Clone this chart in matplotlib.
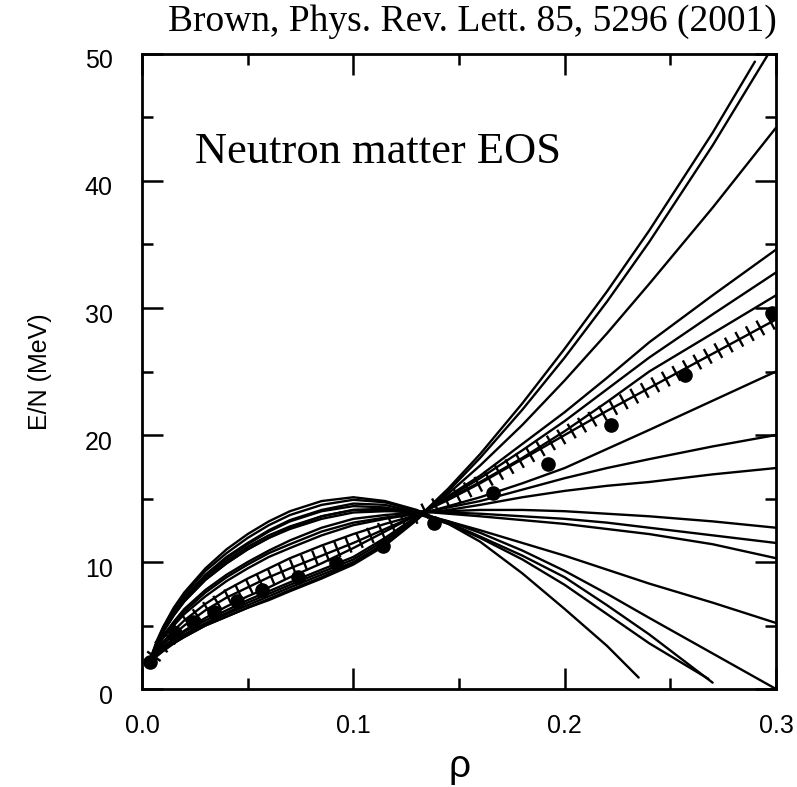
import matplotlib
matplotlib.use("Agg")
import matplotlib.pyplot as plt
import matplotlib.patheffects as pe
from matplotlib.transforms import ScaledTranslation

# ---------------- data ----------------
RHO = [0.004, 0.007, 0.01, 0.015, 0.02, 0.03, 0.04, 0.05, 0.06, 0.07, 0.085, 0.1,
       0.115, 0.13, 0.145, 0.16, 0.18, 0.2, 0.22, 0.24, 0.27, 0.3]

# stiff curves (low at small density, steep at high density)
T1 = [2.1, 2.6, 3.0, 3.6, 4.1, 5.0, 5.7, 6.4, 7.0, 7.7, 8.7, 9.8,
      11.3, 13.3, 15.6, 18.2, 22.0, 26.1, 30.5, 35.2, 42.8, 51.0]
RHO_T2 = [0.004, 0.007, 0.01, 0.015, 0.02, 0.03, 0.04, 0.05, 0.06, 0.07, 0.085, 0.1,
          0.115, 0.13, 0.145, 0.16, 0.18, 0.2, 0.22, 0.24, 0.27, 0.29]
T2 = [2.1, 2.6, 3.0, 3.6, 4.1, 5.0, 5.7, 6.4, 7.1, 7.8, 8.8, 9.9,
      11.4, 13.4, 15.8, 18.5, 22.5, 26.8, 31.3, 36.1, 43.8, 49.4]
T3 = [2.1, 2.7, 3.1, 3.7, 4.2, 5.1, 5.9, 6.6, 7.3, 8.0, 9.0, 10.0,
      11.5, 13.4, 15.4, 17.6, 20.8, 24.3, 28.0, 31.9, 37.9, 44.2]
T4 = [2.1, 2.7, 3.2, 3.8, 4.3, 5.2, 6.0, 6.8, 7.5, 8.2, 9.2, 10.2,
      11.7, 13.5, 15.2, 16.8, 19.3, 21.8, 24.5, 27.3, 31.0, 34.6]
T5 = [2.2, 2.8, 3.3, 3.9, 4.5, 5.4, 6.2, 7.0, 7.7, 8.4, 9.4, 10.4,
      11.9, 13.6, 15.1, 16.6, 18.8, 21.1, 23.6, 26.1, 29.5, 32.8]
T6 = [2.2, 2.8, 3.3, 4.0, 4.6, 5.6, 6.5, 7.3, 8.0, 8.8, 9.9, 11.1,
      12.4, 13.7, 15.0, 16.3, 18.2, 20.3, 22.6, 25.0, 28.0, 31.0]

# intermediate curves
M3 = [2.2, 3.0, 3.7, 4.6, 5.4, 6.7, 7.8, 8.7, 9.5, 10.3, 11.3, 12.2,
      13.0, 13.7, 14.4, 15.1, 16.2, 17.4, 18.9, 20.4, 22.7, 25.0]
M2 = [2.3, 3.3, 4.1, 5.2, 6.1, 7.6, 8.8, 9.8, 10.7, 11.4, 12.4, 13.1,
      13.5, 13.8, 14.3, 14.8, 15.7, 16.6, 17.4, 18.1, 19.1, 20.0]
M1 = [2.3, 3.2, 4.0, 5.0, 5.9, 7.3, 8.5, 9.5, 10.4, 11.1, 12.1, 12.9,
      13.4, 13.8, 14.1, 14.5, 15.1, 15.6, 16.0, 16.3, 16.9, 17.4]
F1 = [2.3, 3.4, 4.2, 5.3, 6.3, 7.8, 9.0, 10.0, 10.9, 11.7, 12.7, 13.4,
      13.7, 13.9, 14.0, 14.1, 14.1, 14.0, 13.8, 13.6, 13.2, 12.7]
F2 = [2.3, 3.5, 4.5, 5.8, 6.9, 8.6, 9.9, 11.0, 11.9, 12.6, 13.4, 13.9,
      14.0, 14.0, 13.9, 13.8, 13.6, 13.4, 13.1, 12.7, 12.1, 11.5]
F3 = [2.3, 3.6, 4.6, 5.9, 7.0, 8.8, 10.1, 11.2, 12.1, 12.8, 13.6, 14.1,
      14.2, 14.0, 13.8, 13.6, 13.3, 13.0, 12.6, 12.2, 11.4, 10.3]

# soft curves (high at small density, falling at high density)
S5 = [2.3, 3.5, 4.5, 5.8, 6.9, 8.6, 9.9, 11.0, 11.9, 12.7, 13.6, 14.1,
      14.1, 13.8, 13.2, 12.5, 11.5, 10.5, 9.4, 8.3, 6.8, 5.2]
S4 = [2.4, 3.6, 4.7, 6.0, 7.2, 9.0, 10.4, 11.5, 12.5, 13.3, 14.1, 14.6,
      14.5, 13.9, 13.2, 12.3, 10.9, 9.3, 7.5, 5.6, 2.8, 0.0]
RHO_S3 = [0.004, 0.007, 0.01, 0.015, 0.02, 0.03, 0.04, 0.05, 0.06, 0.07, 0.085, 0.1,
          0.115, 0.13, 0.145, 0.16, 0.18, 0.2, 0.22, 0.24, 0.27]
S3 = [2.4, 3.7, 4.8, 6.2, 7.4, 9.3, 10.7, 11.9, 12.9, 13.7, 14.5, 14.9,
      14.7, 14.0, 13.1, 12.0, 10.5, 8.8, 6.6, 4.3, 0.5]
RHO_S2 = [0.004, 0.007, 0.01, 0.015, 0.02, 0.03, 0.04, 0.05, 0.06, 0.07, 0.085, 0.1,
          0.115, 0.13, 0.145, 0.16, 0.18, 0.2, 0.22, 0.24, 0.268]
S2 = [2.3, 3.6, 4.6, 6.0, 7.1, 8.9, 10.3, 11.4, 12.4, 13.2, 14.0, 14.4,
      14.3, 13.8, 13.0, 11.9, 10.2, 8.2, 5.9, 3.6, 0.8]
RHO_S1 = [0.004, 0.007, 0.01, 0.015, 0.02, 0.03, 0.04, 0.05, 0.06, 0.07, 0.085, 0.1,
          0.115, 0.13, 0.145, 0.16, 0.18, 0.2, 0.22, 0.235]
S1 = [2.4, 3.8, 4.9, 6.4, 7.6, 9.5, 11.0, 12.2, 13.2, 14.0, 14.8, 15.1,
      14.8, 14.1, 13.0, 11.6, 9.1, 6.3, 3.4, 0.9]

# theory curve drawn with cross hatches
HATCH = [2.2, 2.9, 3.5, 4.3, 5.0, 6.2, 7.2, 8.0, 8.8, 9.5, 10.5, 11.5,
         12.6, 13.7, 14.9, 16.2, 18.1, 20.0, 21.9, 23.7, 26.4, 29.1]

# filled dots
RHO_DOT = [0.004, 0.0156, 0.024, 0.034, 0.045, 0.057, 0.074, 0.092, 0.114, 0.138,
           0.166, 0.192, 0.222, 0.257, 0.298]
E_DOT = [2.1, 4.4, 5.3, 6.1, 6.9, 7.8, 8.8, 9.9, 11.3, 13.1, 15.4, 17.7, 20.8, 24.7, 29.6]

XTICKS = [0.0, 0.1, 0.2, 0.3]
XTICKLABELS = ["0.0", "0.1", "0.2", "0.3"]
XMINOR = [0.05, 0.15, 0.25]
YTICKS = [0, 10, 20, 30, 40, 50]
YTICKLABELS = ["0", "10", "20", "30", "40", "50"]
YMINOR = [5, 15, 25, 35, 45]

# ---------------- figure ----------------
plt.rcParams['font.family'] = ['Liberation Sans', 'DejaVu Sans']
fig = plt.figure(figsize=(7.97, 7.87), dpi=100)
ax = fig.add_axes([0.1782, 0.1245, 0.7955, 0.8069])

lw = 1.7
curves = [
    (RHO, T1), (RHO_T2, T2), (RHO, T3), (RHO, T4), (RHO, T5), (RHO, T6),
    (RHO, M1), (RHO, M2), (RHO, M3), (RHO, F1), (RHO, F2), (RHO, F3),
    (RHO, S5), (RHO, S4), (RHO_S3, S3), (RHO_S2, S2), (RHO_S1, S1),
]
for xs, ys in curves:
    ax.plot(xs, ys, color='black', lw=lw, solid_capstyle='round',
            solid_joinstyle='round')

ax.plot(RHO, HATCH, color='black', lw=lw, solid_joinstyle='round',
        path_effects=[pe.withTickedStroke(spacing=8.5, angle=90, length=0.6),
                      pe.TickedStroke(spacing=8.5, angle=-90, length=0.6)])

ax.plot(RHO_DOT, E_DOT, 'o', color='black', markersize=9.5, zorder=5)

ax.set_xlim(0.0, 0.3)
ax.set_ylim(0, 50)
ax.set_xticks(XTICKS)
ax.set_xticklabels(XTICKLABELS)
ax.set_yticks(YTICKS)
ax.set_yticklabels(YTICKLABELS)
ax.set_xticks(XMINOR, minor=True)
ax.set_yticks(YMINOR, minor=True)
ax.tick_params(which='both', direction='in', top=True, right=True, width=1.8,
               labelsize=18)
ax.tick_params(which='major', length=15)
ax.tick_params(which='minor', length=8)
ax.tick_params(axis='y', pad=21)
ax.tick_params(axis='x', pad=18)
for sp in ax.spines.values():
    sp.set_linewidth(2)

off = ScaledTranslation(0, -0.05, fig.dpi_scale_trans)
for lab in ax.get_yticklabels():
    lab.set_transform(lab.get_transform() + off)

ax.set_ylabel("E/N (MeV)", fontsize=18, labelpad=24)
ax.set_xlabel("ρ", fontsize=28, labelpad=8)

ax.text(0.084, 0.846, "Neutron matter EOS", transform=ax.transAxes,
        family='Liberation Serif', fontsize=32, ha='left', va='center')
fig.text(472 / 797, 1 - 22 / 787, "Brown, Phys. Rev. Lett. 85, 5296 (2001)",
         family='Liberation Serif', fontsize=27, ha='center', va='center')

fig.savefig("out.png", dpi=100)
